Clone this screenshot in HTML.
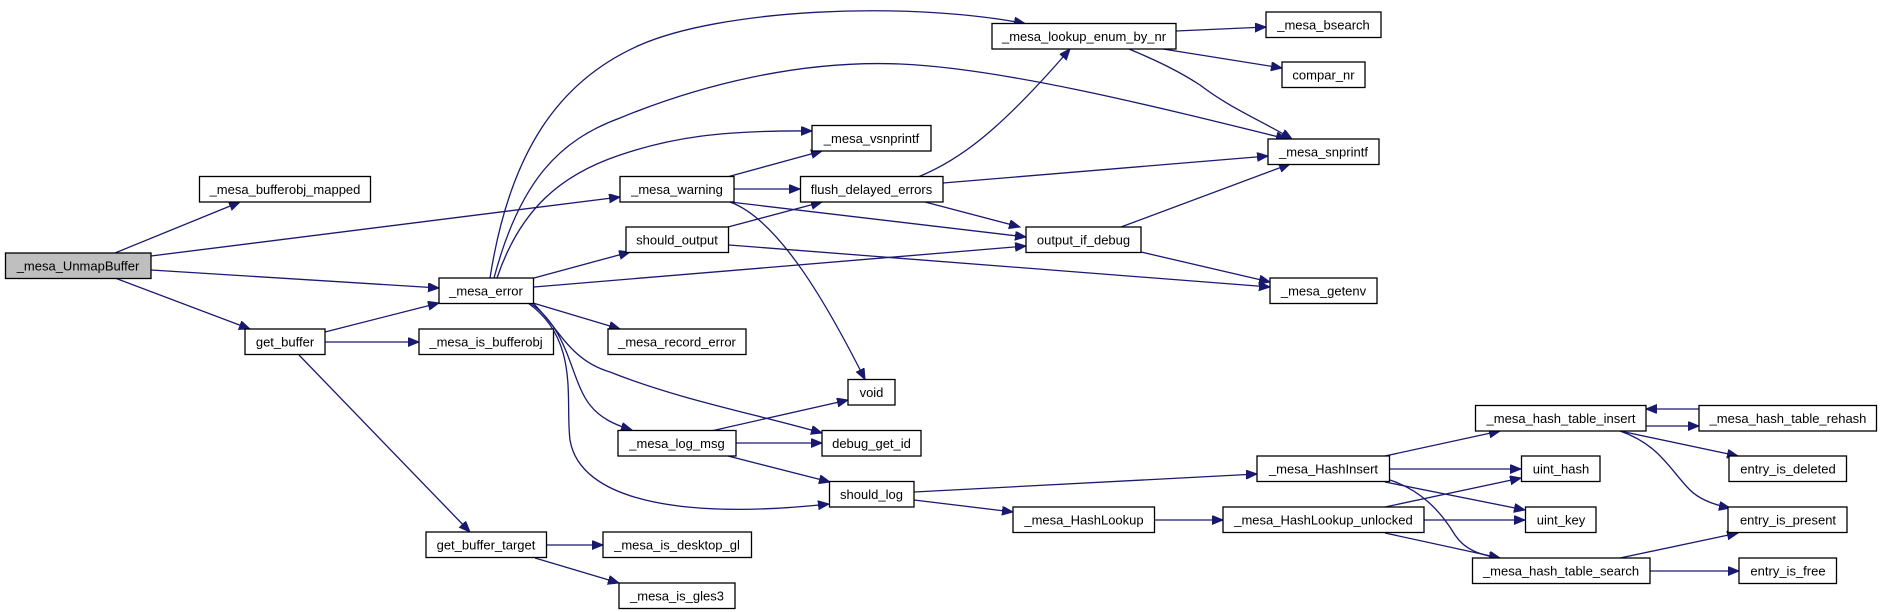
<!DOCTYPE html>
<html><head><meta charset="utf-8"><style>
html,body{margin:0;padding:0;background:#fff;}
svg{display:block;}
text{font-family:"Liberation Sans",Arial,sans-serif;font-size:13px;fill:#000;text-anchor:middle;}
.n{fill:#fff;stroke:#000;stroke-width:1.3;}
.e{fill:none;stroke:#191970;stroke-width:1.3;}
</style></head><body>
<svg width="1883" height="612" viewBox="0 0 1883 612" xmlns="http://www.w3.org/2000/svg">
<defs>
<marker id="a" markerUnits="userSpaceOnUse" markerWidth="12" markerHeight="10" refX="11" refY="4.5" orient="auto">
<path d="M0,0 L11,4.5 L0,9 Z" fill="#191970" stroke="#191970"/>
</marker>
</defs>
<g class="e" marker-end="url(#a)">
<path d="M115,253 L240,202"/>
<path d="M151,256 L620,197"/>
<path d="M151,270 L439,288"/>
<path d="M115,278 L250,329"/>
<path d="M325,332 L439,303"/>
<path d="M325,342 L419,342"/>
<path d="M299,355 L470,532"/>
<path d="M546,545 L603,545"/>
<path d="M535,558 L619,583"/>
<path d="M534,278 L630,252"/>
<path d="M534,287 L1026,246"/>
<path d="M533,303 L620,329"/>
<path d="M490,278 C510,150 560,80 640,45 C720,10 900,0 1025,23.5"/>
<path d="M494,278 C520,180 560,140 620,118 C700,85 800,60 900,64 C1000,68 1150,105 1287,139"/>
<path d="M497,278 C520,210 560,175 620,155 C670,138 720,130 812,131"/>
<path d="M533,303 C560,330 570,360 610,372 C680,400 760,415 822,433"/>
<path d="M530,303 C570,330 570,380 590,405 C600,418 615,425 632,430"/>
<path d="M528,303 C580,340 565,400 570,440 C580,500 680,520 829,504"/>
<path d="M727,177 L822,151"/>
<path d="M734,189 L800,189"/>
<path d="M730,202 L1026,237"/>
<path d="M730,202 C780,220 830,310 865,379.5"/>
<path d="M728,227 L822,202"/>
<path d="M729,245 L1270,287"/>
<path d="M918,177 C960,160 1000,130 1070,49"/>
<path d="M943,183 L1268,156"/>
<path d="M925,202 L1020,227"/>
<path d="M1121,227 L1290,164"/>
<path d="M1141,252 L1270,282"/>
<path d="M1176,31 L1266,27"/>
<path d="M1163,49 L1282,68"/>
<path d="M1129,49 C1160,62 1180,72 1200,85 C1230,108 1260,120 1292,139"/>
<path d="M711,431 L848,400"/>
<path d="M736,443 L822,443"/>
<path d="M728,456 L830,482"/>
<path d="M914,492 L1257,474"/>
<path d="M914,500 L1013,512"/>
<path d="M1155,520 L1223,520"/>
<path d="M1385,456 L1500,431"/>
<path d="M1390,469 L1521,469"/>
<path d="M1385,482 L1525,510"/>
<path d="M1390,480 C1420,490 1440,510 1455,535 C1465,550 1480,555 1500,558"/>
<path d="M1385,507 L1521,478"/>
<path d="M1424,520 L1525,520"/>
<path d="M1385,533 L1500,558"/>
<path d="M1646,426 L1699,426"/>
<path d="M1699,409 L1646,409"/>
<path d="M1620,431 L1738,456"/>
<path d="M1620,431 C1660,445 1670,470 1690,490 C1700,500 1715,505 1730,508"/>
<path d="M1620,558 L1738,533"/>
<path d="M1650,571 L1739,571"/>
</g>
<g>
<rect x="5.5" y="253" width="145.5" height="25.5" style="fill:#bfbfbf;stroke:#000;stroke-width:1.3"/><text x="78" y="270.5">_mesa_UnmapBuffer</text>
<rect class="n" x="199.5" y="176.5" width="171" height="25.5"/><text x="285" y="194">_mesa_bufferobj_mapped</text>
<rect class="n" x="245" y="329" width="80" height="25.5"/><text x="285" y="346.5">get_buffer</text>
<rect class="n" x="439" y="278" width="94.5" height="25.5"/><text x="486" y="295.5">_mesa_error</text>
<rect class="n" x="419" y="329" width="134.5" height="25.5"/><text x="486" y="346.5">_mesa_is_bufferobj</text>
<rect class="n" x="426" y="532" width="120.5" height="25.5"/><text x="486" y="549.5">get_buffer_target</text>
<rect class="n" x="603" y="532" width="148.5" height="25.5"/><text x="677" y="549.5">_mesa_is_desktop_gl</text>
<rect class="n" x="619" y="583" width="116" height="25.5"/><text x="677" y="600.5">_mesa_is_gles3</text>
<rect class="n" x="620" y="176.5" width="114" height="25.5"/><text x="677" y="194">_mesa_warning</text>
<rect class="n" x="626" y="227" width="102.5" height="25.5"/><text x="677" y="244.5">should_output</text>
<rect class="n" x="608" y="329" width="138" height="25.5"/><text x="677" y="346.5">_mesa_record_error</text>
<rect class="n" x="618" y="430.5" width="118" height="25.5"/><text x="677" y="448">_mesa_log_msg</text>
<rect class="n" x="812" y="125.5" width="119" height="25.5"/><text x="871.5" y="143">_mesa_vsnprintf</text>
<rect class="n" x="800.5" y="176.5" width="142.5" height="25.5"/><text x="871.5" y="194">flush_delayed_errors</text>
<rect class="n" x="848" y="379.5" width="47" height="25.5"/><text x="871.5" y="397">void</text>
<rect class="n" x="822" y="430.5" width="99" height="25.5"/><text x="871.5" y="448">debug_get_id</text>
<rect class="n" x="829.5" y="481.5" width="84.5" height="25.5"/><text x="871.5" y="499">should_log</text>
<rect class="n" x="992" y="23.5" width="184" height="25.5"/><text x="1084" y="41">_mesa_lookup_enum_by_nr</text>
<rect class="n" x="1026" y="227" width="115" height="25.5"/><text x="1083.5" y="244.5">output_if_debug</text>
<rect class="n" x="1013" y="507" width="141.5" height="25.5"/><text x="1084" y="524.5">_mesa_HashLookup</text>
<rect class="n" x="1266" y="12" width="115" height="25.5"/><text x="1323.5" y="29.5">_mesa_bsearch</text>
<rect class="n" x="1282" y="62" width="83" height="25.5"/><text x="1323.5" y="79.5">compar_nr</text>
<rect class="n" x="1268" y="139" width="111" height="25.5"/><text x="1323.5" y="156.5">_mesa_snprintf</text>
<rect class="n" x="1270" y="278" width="107" height="25.5"/><text x="1323.5" y="295.5">_mesa_getenv</text>
<rect class="n" x="1257" y="456" width="132.5" height="25.5"/><text x="1323.5" y="473.5">_mesa_HashInsert</text>
<rect class="n" x="1223" y="507" width="201" height="25.5"/><text x="1323.5" y="524.5">_mesa_HashLookup_unlocked</text>
<rect class="n" x="1475.5" y="405.5" width="170.5" height="25.5"/><text x="1561" y="423">_mesa_hash_table_insert</text>
<rect class="n" x="1521.5" y="456" width="78.5" height="25.5"/><text x="1561" y="473.5">uint_hash</text>
<rect class="n" x="1525.5" y="507" width="70.5" height="25.5"/><text x="1561" y="524.5">uint_key</text>
<rect class="n" x="1472.5" y="558" width="177.5" height="25.5"/><text x="1561" y="575.5">_mesa_hash_table_search</text>
<rect class="n" x="1699" y="405.5" width="177.5" height="25.5"/><text x="1788" y="423">_mesa_hash_table_rehash</text>
<rect class="n" x="1729" y="456" width="117.5" height="25.5"/><text x="1788" y="473.5">entry_is_deleted</text>
<rect class="n" x="1728" y="507" width="119" height="25.5"/><text x="1788" y="524.5">entry_is_present</text>
<rect class="n" x="1739" y="558" width="97.5" height="25.5"/><text x="1788" y="575.5">entry_is_free</text>
</g>
</svg>
</body></html>
